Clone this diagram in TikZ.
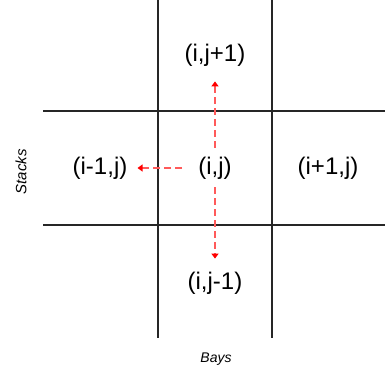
\documentclass[tikz,border=0pt]{standalone}
\usepackage{fontspec}
\setmainfont{Liberation Sans}
\usetikzlibrary{arrows.meta}
\definecolor{moveline}{RGB}{255,90,90}
\definecolor{movetip}{RGB}{255,0,0}
\begin{document}
\begin{tikzpicture}[x=1pt,y=1pt,
  grid/.style={draw=black!85,line width=1.1pt},
  cell/.style={inner sep=0pt,font=\fontsize{24}{28}\selectfont},
  axislabel/.style={inner sep=0pt,font=\fontsize{14}{16}\selectfont\itshape},
  move/.style={draw=moveline,line width=1.2pt,dash pattern=on 7pt off 4pt,-{Triangle[length=5pt,width=7pt,color=movetip]}}]
\useasboundingbox (0,0) rectangle (385,380);
% grid
\draw[grid] (158,380) -- (158,42);
\draw[grid] (272,380) -- (272,42);
\draw[grid] (43,269) -- (385,269);
\draw[grid] (43,155) -- (385,155);
% cells
\node[cell] (c) at (215,212) {(i,j)};
\node[cell] (u) at (215,325) {(i,j+1)};
\node[cell] (d) at (215,97) {(i,j-1)};
\node[cell] (l) at (100,212) {(i-1,j)};
\node[cell] (r) at (328,212) {(i+1,j)};
% labels
\node[axislabel,rotate=90,font=\fontsize{15}{17}\selectfont\itshape] (stacks) at (21,208) {Stacks};
\node[axislabel] (bays) at (216,21) {Bays};
% moves
\draw[move,shorten <=9pt,shorten >=15pt] (c.north) -- (u.south);
\draw[move,shorten <=8pt,shorten >=13pt] (c.south) -- (d.north);
\draw[move,shorten <=16pt,shorten >=10pt] (c.west) -- (l.east);
\end{tikzpicture}
\end{document}
